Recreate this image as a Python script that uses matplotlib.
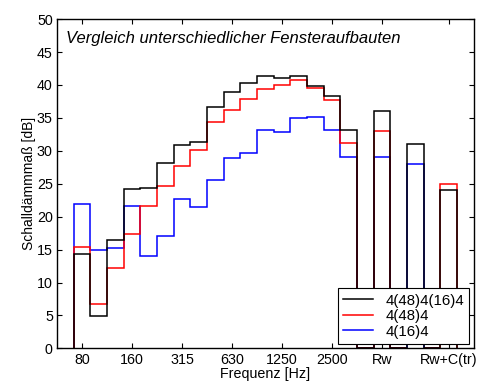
import matplotlib
matplotlib.use('Agg')
import matplotlib.pyplot as plt
import numpy as np

plt.rcParams['font.family'] = ['Liberation Sans', 'DejaVu Sans']

# third-octave bands 80 Hz .. 3150 Hz, then single numbers
bands = [80, 100, 125, 160, 200, 250, 315, 400, 500, 630, 800, 1000,
         1250, 1600, 2000, 2500, 3150]
tick_labels = ['80', '160', '315', '630', '1250', '2500', 'Rw', 'Rw+C(tr)']

r_4_48_4_16_4 = [14.3, 4.9, 16.4, 24.2, 24.3, 28.2, 30.9, 31.4, 36.7, 39.0,
                 40.3, 41.3, 41.1, 41.4, 39.9, 38.3, 33.2]
r_4_48_4 = [15.4, 6.8, 12.2, 17.4, 21.6, 24.7, 27.7, 30.1, 34.3, 36.2,
            37.9, 39.4, 40.0, 40.8, 39.5, 37.7, 31.2]
r_4_16_4 = [21.9, 14.9, 15.3, 21.6, 14.1, 17.1, 22.7, 21.5, 25.6, 28.9,
            29.7, 33.1, 32.8, 35.0, 35.1, 33.2, 29.0]

# single-number values: Rw, (unlabelled), Rw+C(tr)
single_black = [36, 31, 24]
single_red = [33, np.nan, 25]
single_blue = [29, 28, np.nan]


def with_singles(spec, singles):
    vals = list(spec)
    for s in singles:
        vals += [0, s]
    return np.array(vals, dtype=float)


series = [
    ('4(48)4(16)4', 'k', with_singles(r_4_48_4_16_4, single_black)),
    ('4(48)4', 'r', with_singles(r_4_48_4, single_red)),
    ('4(16)4', 'b', with_singles(r_4_16_4, single_blue)),
]

fig = plt.figure(figsize=(4.83, 3.82), dpi=100)
ax = fig.add_axes([0.118, 0.088, 0.863, 0.862])

handles = []
for i, (name, color, vals) in enumerate(series):
    edges = np.arange(1, len(vals) + 2)
    ax.stairs(vals, edges, baseline=0, color=color, linewidth=1.1,
              zorder=2 + (2 - i) * 0.1)
    handles.append(plt.Line2D([], [], color=color, linewidth=1.1, label=name))

ax.set_xlim(0, 25)
ax.set_ylim(0, 50)
ax.set_xticks([1.5, 4.5, 7.5, 10.5, 13.5, 16.5, 19.5, 23.5])
ax.set_xticklabels(tick_labels)
ax.set_yticks(np.arange(0, 51, 5))
ax.tick_params(direction='in', top=True, right=True, labelsize=10.3,
               length=3.5, width=0.8, pad=3)
for sp in ax.spines.values():
    sp.set_linewidth(1.0)

ax.set_ylabel('Schalldämmmaß [dB]', fontsize=10, labelpad=1)
ax.set_xlabel('Frequenz [Hz]', fontsize=10.3, labelpad=0)
ax.text(0.022, 0.965, 'Vergleich unterschiedlicher Fensteraufbauten',
        transform=ax.transAxes, va='top', ha='left', style='italic',
        fontsize=12)

leg = ax.legend(handles=handles, loc='lower right', fontsize=10.8,
                fancybox=False, edgecolor='k', framealpha=1,
                borderaxespad=0.3, handlelength=2.0, labelspacing=0.1,
                borderpad=0.35)
leg.get_frame().set_linewidth(0.8)

plt.savefig('out.png', dpi=100)
plt.close('all')
